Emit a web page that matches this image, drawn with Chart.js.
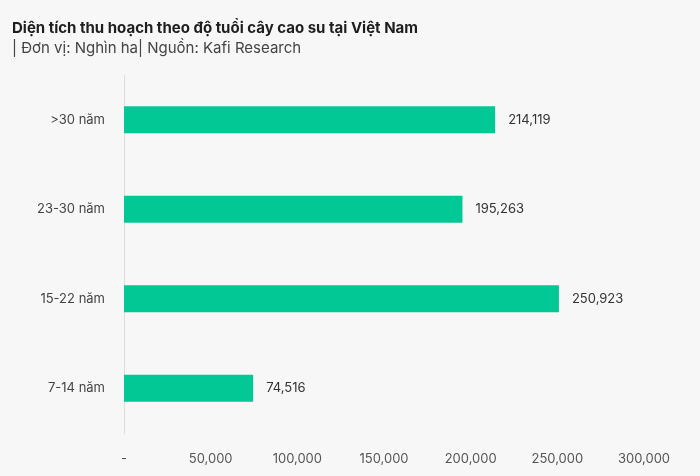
<!DOCTYPE html>
<html>
<head>
<meta charset="utf-8">
<script src="https://cdn.jsdelivr.net/npm/chart.js@4"></script>
<style>
  html, body { margin: 0; padding: 0; background: #f7f7f7; }
  #wrap { width: 700px; height: 476px; }
</style>
</head>
<body>
<div id="wrap"><canvas id="rubberChart"></canvas></div>
<script>
var categories = [">30 năm", "23-30 năm", "15-22 năm", "7-14 năm"];
var areaValues = [214119, 195263, 250923, 74516];
var xTicks = [0, 50000, 100000, 150000, 200000, 250000, 300000];

function fmt(v) {
  return v.toLocaleString("en-US");
}

// value labels at the end of each bar
var valueLabels = {
  id: "valueLabels",
  afterDatasetsDraw: function(chart) {
    var ctx = chart.ctx;
    var meta = chart.getDatasetMeta(0);
    ctx.save();
    ctx.font = "13px Inter";
    ctx.fillStyle = "#333";
    ctx.textBaseline = "middle";
    meta.data.forEach(function(bar, i) {
      ctx.fillText(fmt(areaValues[i]), bar.x + 13, bar.y);
    });
    ctx.restore();
  }
};

var canvas = document.getElementById("rubberChart");

var chart = new Chart(canvas, {
  type: "bar",
  data: {
    labels: categories,
    datasets: [{
      data: areaValues,
      backgroundColor: "#02c896",
      borderWidth: 0,
      barPercentage: 0.6,
      categoryPercentage: 0.5
    }]
  },
  options: {
    indexAxis: "y",
    responsive: true,
    maintainAspectRatio: false,
    animation: false,
    layout: { padding: { left: 12, right: 56, top: 8, bottom: 0 } },
    plugins: {
      legend: { display: false },
      tooltip: { enabled: false },
      title: {
        display: true,
        text: "Diện tích thu hoạch theo độ tuổi cây cao su tại Việt Nam",
        align: "start",
        color: "#1e1e1e",
        font: { family: "Inter", size: 15, weight: "bold" },
        padding: { top: 11, bottom: 2 }
      },
      subtitle: {
        display: true,
        text: "| Đơn vị: Nghìn ha| Nguồn: Kafi Research",
        align: "start",
        color: "#444",
        font: { family: "Inter", size: 15 },
        padding: { top: 0, bottom: 18 }
      }
    },
    scales: {
      x: {
        min: 0,
        max: 300000,
        afterBuildTicks: function(scale) {
          scale.ticks = xTicks.map(function(v) { return { value: v }; });
        },
        afterFit: function(scale) { scale.height = 43; },
        grid: { display: false },
        border: { display: false },
        ticks: {
          color: "#555",
          padding: 10,
          maxRotation: 0,
          font: { family: "Inter", size: 13 },
          callback: function(v) { return v === 0 ? "-" : fmt(v); }
        }
      },
      y: {
        afterFit: function(scale) { scale.width = 112; },
        grid: { display: false },
        border: { display: true, color: "#dddddd", width: 1 },
        ticks: {
          color: "#444",
          padding: 11,
          font: { family: "Inter", size: 13 }
        }
      }
    }
  },
  plugins: [valueLabels]
});
</script>
</body>
</html>
